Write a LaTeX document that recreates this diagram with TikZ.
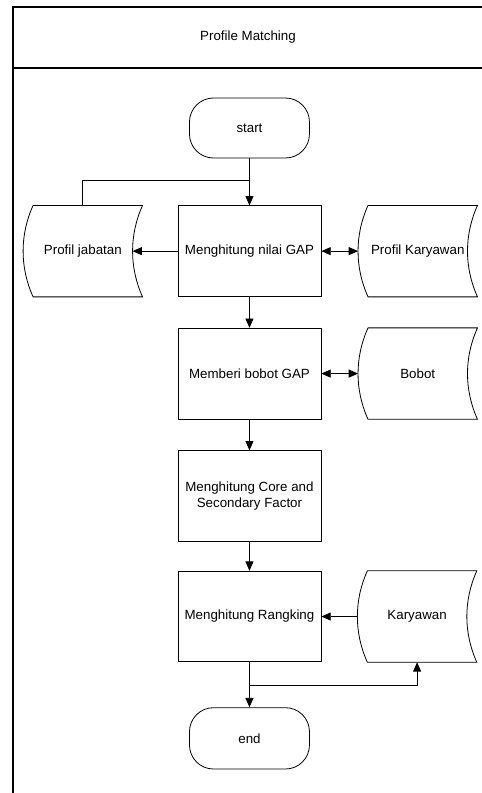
\documentclass[tikz,border=0pt]{standalone}
\usepackage{fontspec}
\setmainfont{Liberation Sans}
\usetikzlibrary{arrows.meta, positioning}

\begin{document}
\begin{tikzpicture}[font=\fontsize{10}{12}\selectfont, line width=0.6pt, >={Triangle[length=7pt,width=6pt]}, node distance=23.25pt,
    proc/.style={draw, align=center, minimum width=107.25pt, minimum height=68pt, inner sep=2pt},
    term/.style={draw, rounded corners=18pt, minimum width=90pt, minimum height=45pt},
    store/.style={minimum width=89pt, minimum height=68pt, inner sep=0pt}]
    \useasboundingbox (0,0) rectangle (361.5pt,-594.75pt);
    % frame and title
    \draw[line width=0.9pt] (361.5pt,-5.25pt) -- (9.75pt,-5.25pt) -- (9.75pt,-594.75pt);
    \draw[line width=0.9pt] (9.75pt,-51pt) -- (361.5pt,-51pt);
    \node (title) at (186pt,-28pt) {Profile Matching};

    \node[term] (start) at (187.1pt,-96pt) {start};
    \node[proc, below=35.25pt of start] (gap) {Menghitung nilai GAP};
    \node[store, left=26.25pt of gap] (jab) {Profil jabatan};
    \node[store, right=27.5pt of gap] (kar) {Profil Karyawan};
    \node[proc, below=of gap] (bobot) {Memberi bobot GAP};
    \node[store, right=27.5pt of bobot] (bob) {Bobot};
    \node[proc, below=of bobot] (factor) {Menghitung Core and\\Secondary Factor};
    \node[proc, below=21.75pt of factor] (rank) {Menghitung Rangking};
    \node[store, right=27pt of rank] (kry) {Karyawan};
    \node[term, below=33.75pt of rank, minimum height=46pt] (end) {end};

    % stored data outlines
    \foreach \s in {jab,kar,bob,kry}
      \draw ([xshift=7.5pt]\s.north west) -- (\s.north east)
        .. controls +(-10pt,-22pt) and +(-10pt,22pt) .. (\s.south east)
        -- ([xshift=7.5pt]\s.south west)
        .. controls +(-10pt,22pt) and +(-10pt,-22pt) .. ([xshift=7.5pt]\s.north west);

    \draw[->] (start) -- coordinate[pos=0.47] (split) (gap);
    \draw (split) -| (jab.north);
    \draw[->] (gap) -- ([xshift=-7.5pt]jab.east);
    \draw[<->] (gap) -- (kar);
    \draw[->] (gap) -- (bobot);
    \draw[<->] (bobot) -- (bob);
    \draw[->] (bobot) -- (factor);
    \draw[->] (factor) -- (rank);
    \draw[->] (kry) -- (rank);
    \draw[->] (rank) -- coordinate[pos=0.52] (split2) (end);
    \draw[->] (split2) -| (kry.south);
\end{tikzpicture}
\end{document}
